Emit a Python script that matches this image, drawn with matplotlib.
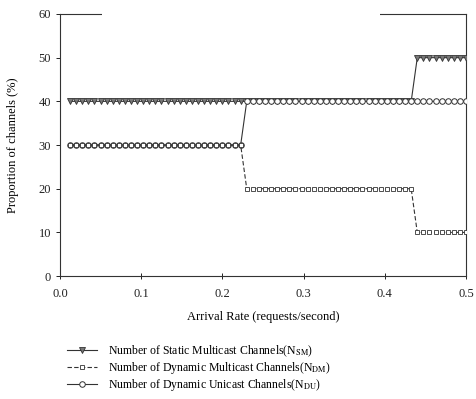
import matplotlib
matplotlib.use('Agg')
import matplotlib.pyplot as plt
import numpy as np

plt.rcParams['font.family'] = 'Liberation Serif'
plt.rcParams['mathtext.fontset'] = 'stix'

# ── data ──────────────────────────────────────────────────────────────────────
# arrival-rate sweep used in the simulation (66 samples)
rate = np.linspace(0.0125, 0.5, 66)

# step levels (%), with the rate where each step starts
sm_breaks, sm_levels = [0.0, 0.44], [40, 50]
dm_breaks, dm_levels = [0.0, 0.23, 0.44], [30, 20, 10]
du_breaks, du_levels = [0.0, 0.23], [30, 40]

labels = [r'Number of Static Multicast Channels(N$_{\mathrm{SM}}$)',
          r'Number of Dynamic Multicast Channels(N$_{\mathrm{DM}}$)',
          r'Number of Dynamic Unicast Channels(N$_{\mathrm{DU}}$)']


def steps(breaks, levels):
    idx = np.searchsorted(breaks, rate + 1e-9, side='right') - 1
    return np.array(levels)[idx]


n_sm = steps(sm_breaks, sm_levels)
n_dm = steps(dm_breaks, dm_levels)
n_du = steps(du_breaks, du_levels)

# ── figure ────────────────────────────────────────────────────────────────────
fig = plt.figure(figsize=(4.76, 3.99), dpi=100)
ax = fig.add_axes([0.126, 0.308, 0.853, 0.657])

ink = '#333333'
h1, = ax.plot(rate, n_sm, '-', color=ink, lw=0.8, marker='v', ms=3.8,
              mfc='#777777', mec=ink, mew=0.6, label=labels[0], zorder=3)
h3, = ax.plot(rate, n_du, '-', color=ink, lw=0.8, marker='o', ms=4.0,
              mfc='white', mec=ink, mew=0.7, label=labels[2], zorder=4)
h2, = ax.plot(rate, n_dm, '--', color=ink, lw=0.8, marker='s', ms=2.8,
              mfc='white', mec=ink, mew=0.6, label=labels[1], zorder=5,
              dashes=(4, 2))

ax.set_xlim(0, 0.5)
ax.set_ylim(0, 60)
ax.set_xticks(np.arange(0, 0.51, 0.1))
ax.set_xticklabels(['0.0', '0.1', '0.2', '0.3', '0.4', '0.5'])
ax.set_yticks(range(0, 61, 10))
ax.tick_params(axis='x', direction='inout', length=5, width=0.7,
               labelsize=9, colors='#222', pad=6)
ax.tick_params(axis='y', direction='out', length=3, width=0.7,
               labelsize=9, colors='#222')
for s in ax.spines.values():
    s.set_linewidth(0.8)
    s.set_color('#333')

ax.set_xlabel('Arrival Rate (requests/second)', fontsize=9, labelpad=8)
ax.set_ylabel('Proportion of channels (%)', fontsize=9, labelpad=14)

# part of the top frame is blanked out in the scan
ax.add_patch(plt.Rectangle((0.103, 0.985), 0.685, 0.04, transform=ax.transAxes,
                           fc='white', ec='none', clip_on=False, zorder=10))

fig.legend(handles=[h1, h2, h3], labels=labels, loc='upper left',
           bbox_to_anchor=(0.14, 0.14), frameon=False, fontsize=8.5,
           handlelength=2.6, handletextpad=0.9, labelspacing=0.1,
           borderpad=0, borderaxespad=0)

fig.savefig('out.png', dpi=100, facecolor='white')
